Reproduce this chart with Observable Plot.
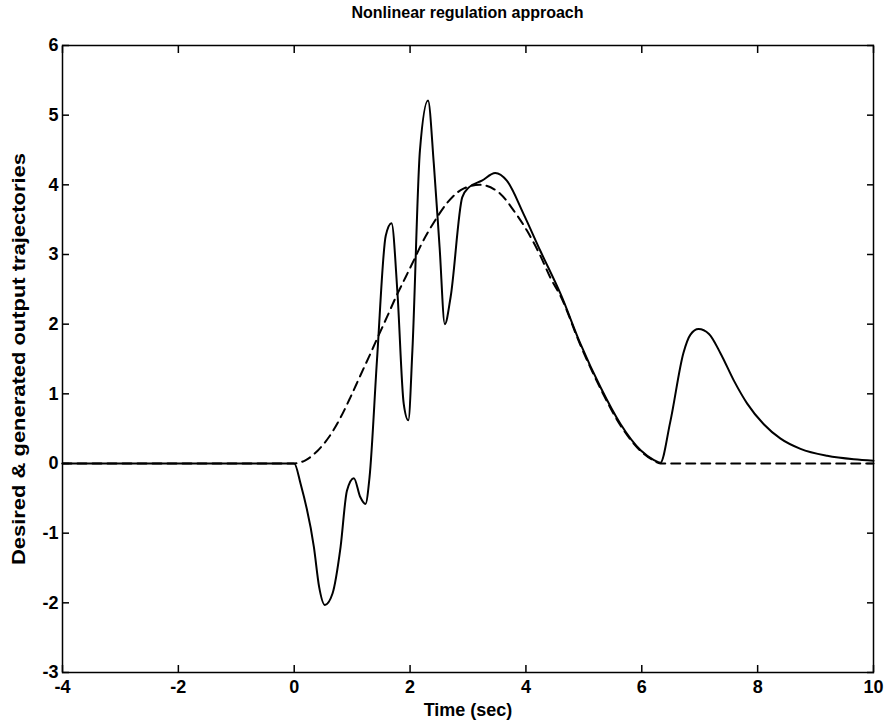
<!DOCTYPE html>
<html><head><meta charset="utf-8">
<script src="https://cdn.jsdelivr.net/npm/d3@7"></script>
<script src="https://cdn.jsdelivr.net/npm/@observablehq/plot@0.6"></script>
<style>
body{margin:0;background:#fff;}
#wrap{position:relative;width:888px;height:723px;font-family:"Liberation Sans",Arial,sans-serif;}
#title{position:absolute;top:0;left:62px;width:811px;text-align:center;font-size:16px;font-weight:bold;line-height:26px;}
#chart{position:absolute;top:26px;left:0;}
</style></head><body>
<div id="wrap"><div id="title">Nonlinear regulation approach</div><div id="chart"></div></div>
<script>
const timeGenerated = [-4, 0, 0.11, 0.34, 0.43, 0.53, 0.66, 0.80, 0.91, 1.03, 1.14, 1.23, 1.30, 1.43, 1.58, 1.68, 1.78, 1.89, 1.97, 2.04, 2.17, 2.31, 2.41, 2.51, 2.60, 2.70, 2.90, 3.01, 3.24, 3.47, 3.67, 3.96, 4.25, 4.60, 4.94, 5.29, 5.63, 5.98, 6.21, 6.32, 6.49, 6.72, 6.84, 6.98, 7.16, 7.36, 7.59, 7.82, 8.11, 8.39, 8.74, 9.20, 9.66, 10];
const valueGenerated = [0, 0, -0.29, -1.2, -1.77, -2.03, -1.87, -1.2, -0.39, -0.21, -0.48, -0.58, -0.2, 1.5, 3.27, 3.45, 2.48, 0.86, 0.62, 1.62, 4.49, 5.21, 4.30, 3.10, 2.0, 2.39, 3.82, 3.96, 4.06, 4.17, 4.06, 3.58, 3.05, 2.43, 1.72, 1.09, 0.57, 0.19, 0.05, 0.01, 0.59, 1.59, 1.85, 1.93, 1.86, 1.58, 1.19, 0.86, 0.56, 0.36, 0.21, 0.11, 0.06, 0.04];
const timeDesired = [-4, 0, 0.2, 0.4, 0.6, 0.8, 0.97, 1.14, 1.29, 1.43, 1.60, 1.75, 1.92, 2.09, 2.18, 2.41, 2.64, 2.93, 3.2, 3.56, 3.79, 4.02, 4.25, 4.42, 4.60, 4.94, 5.29, 5.63, 5.98, 6.21, 6.32, 10];
const valueDesired = [0, 0, 0.05, 0.18, 0.38, 0.66, 0.95, 1.26, 1.53, 1.79, 2.1, 2.38, 2.67, 2.96, 3.12, 3.46, 3.74, 3.95, 4.0, 3.87, 3.63, 3.34, 2.98, 2.67, 2.40, 1.70, 1.07, 0.55, 0.18, 0.04, 0, 0];
const xTicks = [-4, -2, 0, 2, 4, 6, 8, 10];
const yTicks = [-3, -2, -1, 0, 1, 2, 3, 4, 5, 6];
const xLabel = "Time (sec)";
const yLabel = "Desired & generated output trajectories";

const generated = timeGenerated.map((t, i) => ({t, v: valueGenerated[i]}));
const desired = timeDesired.map((t, i) => ({t, v: valueDesired[i]}));
const fmt = d => String(d);
const blank = () => "";

const chart = Plot.plot({
  width: 888, height: 697,
  marginTop: 19, marginBottom: 51, marginLeft: 62, marginRight: 15,
  style: {fontFamily: "'Liberation Sans', Arial, sans-serif", fontSize: "18px", fontWeight: "bold", color: "black", background: "white"},
  x: {domain: [-4, 10]},
  y: {domain: [-3, 6]},
  marks: [
    Plot.frame({stroke: "black", strokeWidth: 1.5}),
    Plot.axisX({anchor: "bottom", ticks: xTicks, tickFormat: fmt, tickSize: -7, tickPadding: 15, strokeWidth: 1.5, label: null}),
    Plot.axisX({anchor: "top", ticks: xTicks, tickFormat: blank, tickSize: -7, strokeWidth: 1.5, label: null}),
    Plot.axisY({anchor: "left", ticks: yTicks, tickFormat: fmt, tickSize: -7, tickPadding: 11, strokeWidth: 1.5, label: null}),
    Plot.axisY({anchor: "right", ticks: yTicks, tickFormat: blank, tickSize: -7, strokeWidth: 1.5, label: null}),
    Plot.line(desired, {x: "t", y: "v", stroke: "black", strokeWidth: 2, strokeDasharray: "9,6", curve: "monotone-x"}),
    Plot.line(generated, {x: "t", y: "v", stroke: "black", strokeWidth: 2, curve: "monotone-x"}),
    Plot.text([xLabel], {text: d => d, frameAnchor: "bottom", dy: 43, fontSize: 18}),
    Plot.text([yLabel], {text: d => d, frameAnchor: "left", textAnchor: "middle", rotate: -90, dx: -43, fontSize: 18})
  ]
});
d3.select(chart).selectAll("text").filter(function() { return this.textContent === yLabel; })
  .attr("textLength", 412).attr("lengthAdjust", "spacingAndGlyphs");
document.getElementById("chart").appendChild(chart);
</script>
</body></html>
